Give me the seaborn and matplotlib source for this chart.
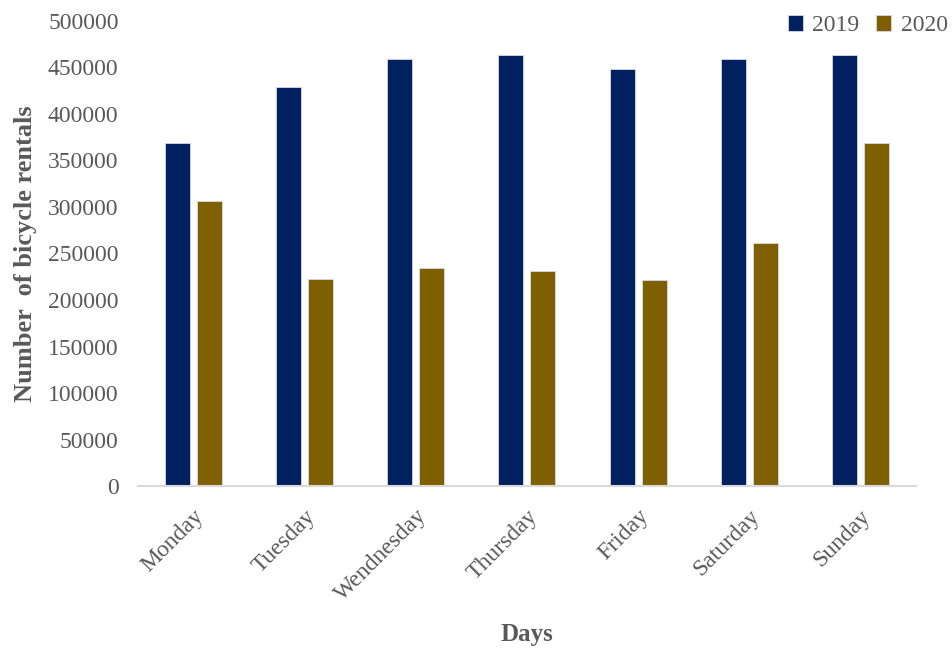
import pandas as pd
import matplotlib
matplotlib.use("Agg")
import matplotlib.pyplot as plt
import seaborn as sns

days = ["Monday", "Tuesday", "Wendnesday", "Thursday", "Friday", "Saturday", "Sunday"]
rentals_2019 = [369000, 429000, 459000, 463000, 448000, 459000, 463000]
rentals_2020 = [306000, 223000, 234000, 231000, 221000, 261000, 369000]
years = ["2019", "2020"]
yticks = [0, 50000, 100000, 150000, 200000, 250000, 300000, 350000, 400000, 450000, 500000]

df = pd.DataFrame({
    "Day": days * 2,
    "Year": [years[0]] * len(days) + [years[1]] * len(days),
    "Rentals": rentals_2019 + rentals_2020,
})

sns.set_style("white")
plt.rcParams["font.family"] = ["Liberation Serif", "DejaVu Serif"]
grey = "#595959"

fig = plt.figure(figsize=(9.52, 6.49), dpi=100)
ax = fig.add_axes([0.145, 0.251, 0.817, 0.717])
sns.barplot(data=df, x="Day", y="Rentals", hue="Year", order=days, hue_order=years,
            palette=["#002060", "#7F6000"], saturation=1, width=0.576, gap=0.22,
            edgecolor="#d8d8e8", linewidth=0.6, ax=ax)

ax.set_ylim(0, 500000)
ax.set_xlim(-0.5, len(days) - 0.5)
ax.set_yticks(yticks)
ax.set_yticklabels([str(v) for v in yticks])
ax.tick_params(axis="both", length=0, colors=grey, labelsize=17)
ax.tick_params(axis="y", pad=14)
ax.tick_params(axis="x", pad=14)
for lab in ax.get_xticklabels():
    lab.set_rotation(45)
    lab.set_ha("right")
    lab.set_rotation_mode("anchor")

for s in ["top", "right", "left"]:
    ax.spines[s].set_visible(False)
ax.spines["bottom"].set_color("#d9d9d9")
ax.spines["bottom"].set_linewidth(1.5)

ax.set_ylabel("Number  of bicycle rentals", fontsize=19, fontweight="bold", color=grey, labelpad=8)
ax.set_xlabel("Days", fontsize=18, fontweight="bold", color=grey)
ax.xaxis.set_label_coords(0.5, -0.295)

ax.legend_.remove()
handles, labels = ax.get_legend_handles_labels()
fig.legend(handles, labels, loc="upper right", bbox_to_anchor=(1.018, 1.01), ncol=2,
           frameon=False, fontsize=17, labelcolor=grey, handlelength=0.65, handleheight=0.65,
           handletextpad=0.4, columnspacing=0.7)

fig.savefig("out.png", dpi=100)
